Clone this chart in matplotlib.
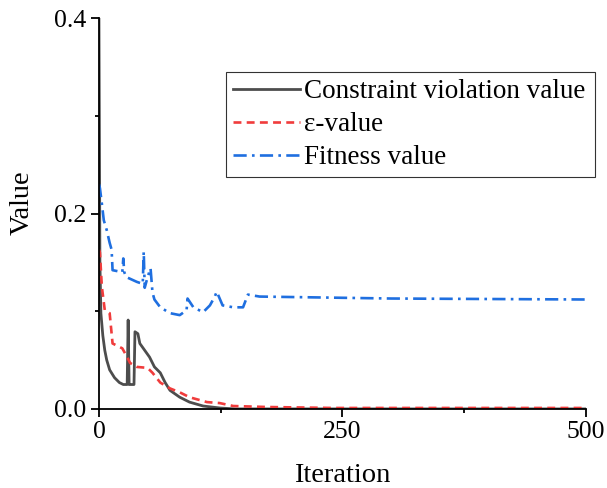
import matplotlib.pyplot as plt

# iteration / value pairs
cv_x = [0, 1, 2, 4, 6, 8, 11, 16, 21, 25, 29, 30, 31, 33, 36, 37, 40, 42, 47, 52,
        57, 63, 68, 73, 83, 93, 107, 124, 140, 200, 500]
cv_y = [0.4, 0.15, 0.098, 0.075, 0.06, 0.05, 0.04, 0.032, 0.027, 0.025, 0.025, 0.091,
        0.025, 0.025, 0.025, 0.079, 0.077, 0.067, 0.06, 0.053, 0.043, 0.037, 0.027,
        0.019, 0.012, 0.007, 0.003, 0.001, 0.0, 0.0, 0.0]

eps_x = [0, 1, 3, 6, 11, 14, 24, 29, 32, 39, 50, 55, 63, 73, 83, 93, 111, 124, 138,
         172, 240, 500]
eps_y = [0.163, 0.16, 0.125, 0.101, 0.098, 0.067, 0.062, 0.053, 0.047, 0.043, 0.042,
         0.037, 0.027, 0.021, 0.017, 0.012, 0.007, 0.006, 0.003, 0.002, 0.001, 0.001]

fit_x = [0, 1, 3, 5, 8, 11, 13, 14, 24, 25, 26, 28, 39, 45, 46, 47, 50, 53, 55, 57,
         63, 73, 83, 90, 91, 97, 107, 114, 119, 121, 127, 138, 148, 153, 165, 300, 500]
fit_y = [0.23, 0.226, 0.21, 0.193, 0.183, 0.17, 0.163, 0.142, 0.14, 0.154, 0.14, 0.135,
         0.13, 0.128, 0.161, 0.124, 0.135, 0.144, 0.119, 0.112, 0.104, 0.098, 0.096,
         0.101, 0.113, 0.104, 0.099, 0.106, 0.115, 0.12, 0.106, 0.104, 0.104, 0.117,
         0.115, 0.113, 0.112]

labels = ['Constraint violation value', 'ε-value', 'Fitness value']

plt.rcParams['font.family'] = ['Liberation Serif', 'DejaVu Serif']

fig = plt.figure(figsize=(6.07, 4.88), dpi=100)
ax = fig.add_axes([0.163, 0.162, 0.802, 0.801])

ax.plot(cv_x, cv_y, color='#4d4d4d', lw=2.0, label=labels[0])
ax.plot(eps_x, eps_y, color='#f03c3c', lw=1.9, ls=(0, (3, 2)), label=labels[1])
ax.plot(fit_x, fit_y, color='#1f6fe0', lw=1.9, ls=(0, (5, 2, 1, 2)), label=labels[2])

ax.set_xlim(0, 500)
ax.set_ylim(0, 0.4)
ax.set_xticks([0, 250, 500])
ax.set_xticks([125, 375], minor=True)
ax.set_yticks([0.0, 0.2, 0.4])
ax.set_yticks([0.1, 0.3], minor=True)
ax.set_yticklabels(['0.0', '0.2', '0.4'])

for s in ['top', 'right']:
    ax.spines[s].set_visible(False)
for s in ['left', 'bottom']:
    ax.spines[s].set_linewidth(1.3)
ax.tick_params(which='major', direction='out', length=6, width=1.3, labelsize=18.5, pad=3)
ax.tick_params(which='minor', direction='out', length=3, width=1.3)

ax.set_xlabel('Iteration', fontsize=20.5, labelpad=14)
ax.set_ylabel('Value', fontsize=20.5, labelpad=14)
ax.yaxis.label.set_y(0.527)

leg = ax.legend(loc='lower left', bbox_to_anchor=(0.372, 0.637, 0.608, 0.215),
                bbox_transform=fig.transFigure, mode='expand', fontsize=19.5,
                frameon=True, fancybox=False, edgecolor='black', handlelength=2.5,
                handletextpad=0.15, borderpad=0.25, labelspacing=0.3, borderaxespad=0)
leg.get_frame().set_linewidth(0.8)

fig.savefig('out.png', dpi=100)
